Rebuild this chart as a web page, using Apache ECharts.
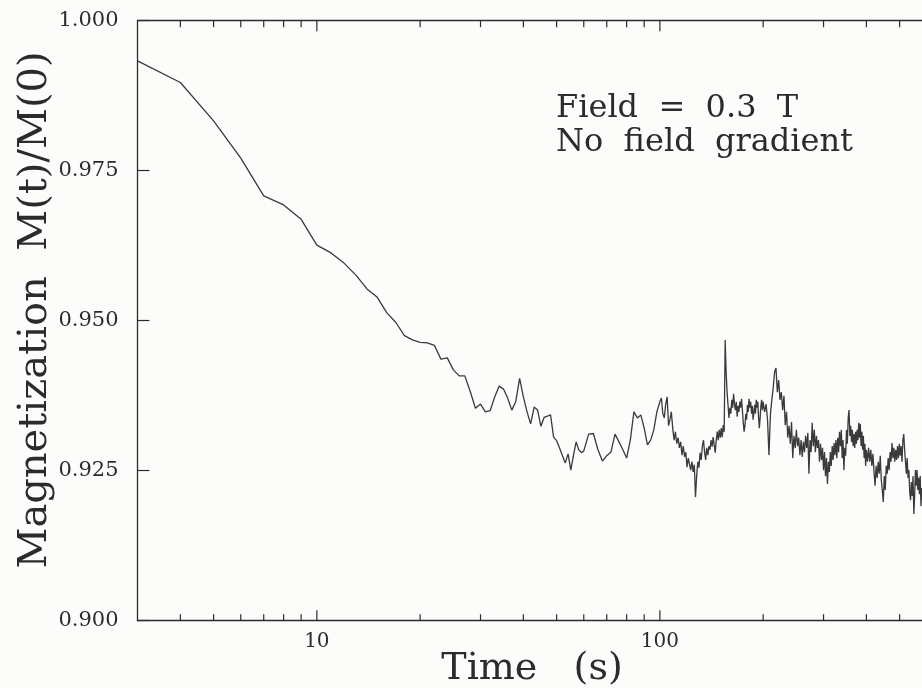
<!DOCTYPE html>
<html>
<head>
<meta charset="utf-8">
<script src="https://cdn.jsdelivr.net/npm/echarts@6/dist/echarts.min.js"></script>
<style>
html,body{margin:0;padding:0;background:#fcfcfa;}
#chart{width:922px;height:688px;}
</style>
</head>
<body>
<div id="chart"></div>
<script>
// ---- data (time in s, magnetization M(t)/M(0)) ----
const timeA = [3,4,5,6,7,8,9,10,11,12,13,14,15,16,17,18,19,20,21,22,23,24,25,26,27,28,29,30,
  31,32,33,34,35,36,37,38,39,40,41,42,43,44,45,46,47,48,49,50,51,52,53,54,55,56,57,58,59,60];
const magA = [0.9933,0.9897,0.9833,0.9771,0.9708,0.9693,0.9669,0.9626,0.9613,0.9596,0.9576,0.9553,0.9539,0.9513,
  0.9497,0.9475,0.9468,0.9464,0.9463,0.9459,0.9436,0.9438,0.9418,0.9408,0.9408,0.9382,0.9354,0.9361,
  0.9348,0.9350,0.9373,0.9391,0.9386,0.9371,0.9351,0.9365,0.9404,0.9373,0.9348,0.9328,0.9356,0.9351,
  0.9324,0.9339,0.9341,0.9343,0.9306,0.9300,0.9288,0.9275,0.9263,0.9278,0.9251,0.9276,0.9298,0.9285,0.9280,0.9283];

const timeB = [62,64,66,68,70,72,74,76,78,80,82,84,86,88,90,92,94,96,98];
const magB = [0.9311,0.9312,0.9285,0.9266,0.9275,0.9281,0.9311,0.9298,0.9285,0.9271,0.9301,0.9348,0.9338,0.9343,
  0.9321,0.9293,0.9301,0.9318,0.9348];

const timeC = [100,101,102,103,104,105,106,107,108,109,110,111,112,113,114,115,116,117,118,119,
  120,121,122,123,124,125,126,127,128,129,130,131,132,133,134,135,136,137,138,139,
  140,141,142,143,144,145,146,147,148,149,150,151,152,153,154,155,156,157,158,159,
  160,161,162,163,164,165,166,167,168,169,170,171,172,173,174,175,176,177,178,179,
  180,181,182,183,184,185,186,187,188,189,190,191,192,193,194,195,196,197,198,199,200];
const magC = [0.9365,0.9371,0.9345,0.9338,0.9361,0.9373,0.9325,0.9335,0.9348,0.9321,
  0.9301,0.9315,0.9295,0.9305,0.9288,0.9298,0.9276,0.9291,0.9273,0.9281,
  0.9256,0.9271,0.9261,0.9251,0.9265,0.9248,0.9260,0.9206,0.9241,0.9265,
  0.9255,0.9280,0.9268,0.9291,0.9301,0.9281,0.9268,0.9288,0.9276,0.9291,
  0.9285,0.9301,0.9290,0.9306,0.9293,0.9280,0.9301,0.9315,0.9301,0.9318,
  0.9305,0.9321,0.9306,0.9326,0.9315,0.9468,0.9415,0.9381,0.9360,0.9338,
  0.9355,0.9345,0.9368,0.9355,0.9378,0.9361,0.9351,0.9365,0.9340,0.9358,
  0.9348,0.9365,0.9355,0.9370,0.9351,0.9331,0.9315,0.9325,0.9345,0.9335,
  0.9360,0.9348,0.9370,0.9355,0.9365,0.9345,0.9358,0.9335,0.9348,0.9360,
  0.9345,0.9368,0.9355,0.9365,0.9338,0.9321,0.9338,0.9358,0.9368,0.9351,0.9365];

const timeD = [202,204,206,208,210,212,214,216,218,220,222,224,226,228,230,232,234,236,238,240,
  242,244,246,248,250,252,254,256,258,260,262,264,266,268,270,272,274,276,278,280,
  282,284,286,288,290,292,294,296,298,300,302,304,306,308,310,312,314,316,318,320,
  322,324,326,328,330,332,334,336,338,340,342,344,346,348,350,352,354,356,358,360,
  362,364,366,368,370,372,374,376,378,380,382,384,386,388,390,392,394,396,398,400];
const magD = [0.9348,0.9361,0.9335,0.9276,0.9343,0.9368,0.9388,0.9415,0.9421,0.9381,
  0.9401,0.9368,0.9381,0.9351,0.9375,0.9326,0.9348,0.9305,0.9325,0.9295,
  0.9331,0.9271,0.9308,0.9288,0.9318,0.9291,0.9305,0.9276,0.9301,0.9273,
  0.9298,0.9281,0.9308,0.9288,0.9313,0.9245,0.9301,0.9281,0.9330,0.9291,
  0.9318,0.9281,0.9308,0.9288,0.9301,0.9265,0.9295,0.9268,0.9288,0.9251,
  0.9281,0.9241,0.9271,0.9228,0.9265,0.9248,0.9281,0.9258,0.9291,0.9268,
  0.9296,0.9276,0.9301,0.9271,0.9305,0.9281,0.9315,0.9291,0.9318,0.9271,
  0.9301,0.9251,0.9288,0.9275,0.9318,0.9295,0.9338,0.9351,0.9308,0.9325,
  0.9298,0.9318,0.9291,0.9311,0.9288,0.9315,0.9295,0.9318,0.9301,0.9330,
  0.9305,0.9328,0.9291,0.9315,0.9285,0.9308,0.9271,0.9295,0.9258,0.9285];

const timeE = [403,406,409,412,415,418,421,424,427,430,433,436,439,442,445,448,451,454,457,460,
  463,466,469,472,475,478,481,484,487,490,493,496,499,502,505,508,511,514,517,520,
  523,526,529,532,535,538,541,544,547,550,553,556,559,562,565,568,571,574,577,580,583,586];
const magE = [0.9265,0.9288,0.9265,0.9285,0.9258,0.9278,0.9248,0.9225,0.9258,0.9238,
  0.9265,0.9245,0.9275,0.9235,0.9218,0.9198,0.9241,0.9218,0.9258,0.9245,
  0.9271,0.9251,0.9281,0.9265,0.9296,0.9271,0.9288,0.9265,0.9285,0.9268,
  0.9291,0.9271,0.9295,0.9275,0.9291,0.9265,0.9301,0.9311,0.9285,0.9265,
  0.9245,0.9271,0.9238,0.9251,0.9215,0.9201,0.9231,0.9208,0.9241,0.9178,
  0.9208,0.9251,0.9225,0.9251,0.9218,0.9238,0.9211,0.9241,0.9191,0.9221,0.9201,0.9231];

// axis ticks / labels
const yTicks = [0.900, 0.925, 0.950, 0.975, 1.000];
const xMajorTicks = [10, 100];
const xMinorTicks = [4,5,6,7,8,9,20,30,40,50,60,70,80,90,200,300,400,500];
const xLabelValues = [10, 100];
const xTitle = 'Time   (s)';
const yTitle = 'Magnetization  M(t)/M(0)';
const noteLines = ['Field  =  0.3  T', 'No  field  gradient'];

// ---- build ----
const times = [].concat(timeA, timeB, timeC, timeD, timeE);
const mags = [].concat(magA, magB, magC, magD, magE);
const series0 = times.map((t, i) => [t, mags[i]]);

const INK = '#2b2b2b';
const FONT = '"DejaVu Serif", "Liberation Serif", serif';
const X_MIN = 3, X_MAX = 581, Y_MIN = 0.9, Y_MAX = 1.0;

// tick marks drawn as thin rect symbols placed on the axes through the scales
function tickSeries(values, len) {
  const data = [];
  values.forEach(v => {
    data.push({value: [v, Y_MIN], symbolOffset: [0, -len / 2]});
    data.push({value: [v, Y_MAX], symbolOffset: [0, len / 2]});
  });
  return {
    type: 'scatter', silent: true, clip: false, z: 4,
    symbol: 'rect', symbolSize: [1.2, len],
    itemStyle: {color: INK, opacity: 1},
    data: data
  };
}

const chart = echarts.init(document.getElementById('chart'), null, {renderer: 'canvas'});
chart.setOption({
  animation: false,
  backgroundColor: '#fcfcfa',
  grid: {left: 137.5, top: 20.7, right: 0, height: 600, show: false},
  xAxis: [{
    type: 'log', logBase: 10, min: X_MIN, max: X_MAX, position: 'bottom',
    axisLine: {show: true, lineStyle: {color: INK, width: 1.3}},
    axisTick: {show: false},
    splitLine: {show: false},
    minorTick: {show: false},
    axisLabel: {
      show: true, margin: 11, color: INK, fontFamily: FONT, fontSize: 20,
      showMinLabel: false, showMaxLabel: false,
      formatter: function (v) {
        for (const L of xLabelValues) { if (Math.abs(v - L) < 1e-6 * L) return String(L); }
        return '';
      }
    }
  }, {
    type: 'log', logBase: 10, min: X_MIN, max: X_MAX, position: 'top',
    axisLine: {show: true, lineStyle: {color: INK, width: 1.3}},
    axisTick: {show: false}, axisLabel: {show: false}, splitLine: {show: false}
  }],
  yAxis: {
    type: 'value', min: Y_MIN, max: Y_MAX, interval: 0.025,
    axisLine: {show: true, lineStyle: {color: INK, width: 1.3}},
    axisTick: {show: true, inside: true, length: 12, lineStyle: {color: INK, width: 1.2}},
    splitLine: {show: false},
    axisLabel: {
      margin: 19, color: INK, fontFamily: FONT, fontSize: 21,
      formatter: function (v) {
        for (const T of yTicks) { if (Math.abs(v - T) < 1e-9) return T.toFixed(3); }
        return v.toFixed(3);
      }
    }
  },
  series: [
    {
      type: 'line', data: series0, showSymbol: false, symbol: 'none',
      lineStyle: {color: '#3a3a3a', width: 1.3}, z: 3
    },
    tickSeries(xMinorTicks, 6.5),
    tickSeries(xMajorTicks, 10.5)
  ],
  graphic: [
    {type: 'text', x: 36, y: 310, rotation: Math.PI / 2,
      style: {text: yTitle, font: '40px ' + FONT, fill: INK, align: 'center', verticalAlign: 'middle'}},
    {type: 'text', x: 532, y: 669,
      style: {text: xTitle, font: '38px ' + FONT, fill: INK, align: 'center', verticalAlign: 'middle'}},
    {type: 'text', x: 556, y: 109,
      style: {text: noteLines[0], font: '32px ' + FONT, fill: INK, align: 'left', verticalAlign: 'middle'}},
    {type: 'text', x: 556, y: 143,
      style: {text: noteLines[1], font: '32px ' + FONT, fill: INK, align: 'left', verticalAlign: 'middle'}}
  ]
});
</script>
</body>
</html>
